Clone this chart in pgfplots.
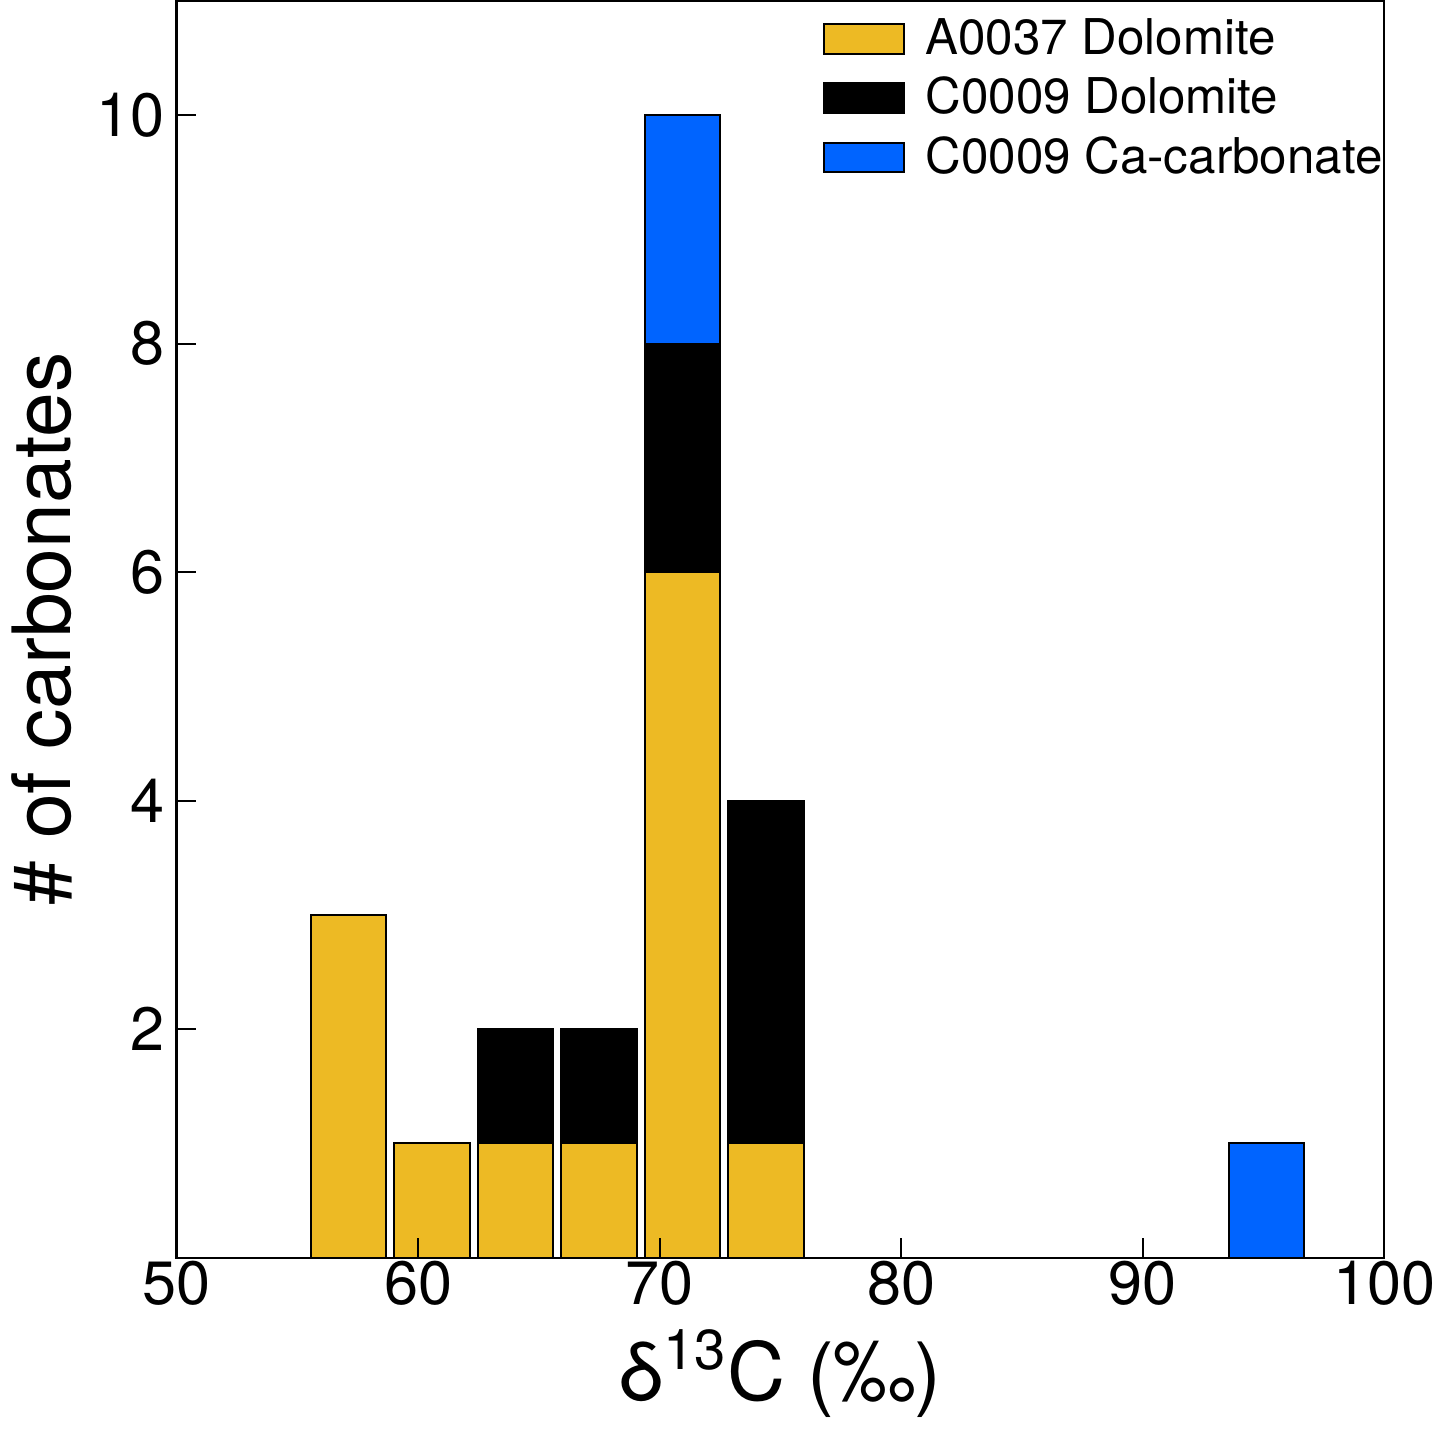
\documentclass[border=0pt]{standalone}
\usepackage{fontspec}
\setmainfont{TeX Gyre Heros}
\usepackage{pgfplots}
\pgfplotsset{compat=1.18}
\definecolor{gold}{HTML}{EDBA24}
\definecolor{cblue}{HTML}{0064FF}
\begin{document}
\begin{tikzpicture}
\begin{axis}[
  scale only axis, width=12.14cm, height=12.63cm,
  xmin=50, xmax=100, ymin=0, ymax=11,
  ybar stacked, bar width=3.13,
  axis on top,
  xtick={50,60,70,80,90,100}, ytick={2,4,6,8,10},
  tick align=inside, tick pos=left, major tick length=0.2cm,
  tick style={black, line width=0.6pt},
  axis line style={black, line width=0.6pt},
  /pgf/number format/assume math mode=true,
  ticklabel style={font=\fontsize{17.5}{20}\selectfont},
  xticklabel style={yshift=2.5pt},
  xlabel={δ\textsuperscript{13}C (‰)}, ylabel={\# of carbonates},
  label style={font=\fontsize{23}{26}\selectfont},
  xlabel style={yshift=0pt},
  ylabel style={yshift=0pt},
  legend style={draw=none, at={(0.526,0.998)}, anchor=north west, fill=none,
    font=\fontsize{14.1}{16}\selectfont, row sep=1pt},
  legend cell align=left,
  legend image code/.code={\draw[#1, draw=black] (0cm,-0.15cm) rectangle (0.8cm,0.15cm);
    \path[draw=none, fill=none] (0.8cm,0) -- (0.95cm,0);},
]
\addplot[fill=gold, draw=black, line width=0.6pt] coordinates {(57.12,3) (60.575,1) (64.03,1) (67.485,1) (70.94,6) (74.395,1) (95.125,0)};
\addlegendentry{A0037 Dolomite}
\addplot[fill=black, draw=black, line width=0.6pt] coordinates {(57.12,0) (60.575,0) (64.03,1) (67.485,1) (70.94,2) (74.395,3) (95.125,0)};
\addlegendentry{C0009 Dolomite}
\addplot[fill=cblue, draw=black, line width=0.6pt] coordinates {(57.12,0) (60.575,0) (64.03,0) (67.485,0) (70.94,2) (74.395,0) (95.125,1)};
\addlegendentry{C0009 Ca-carbonate}
\end{axis}
\end{tikzpicture}
\end{document}
